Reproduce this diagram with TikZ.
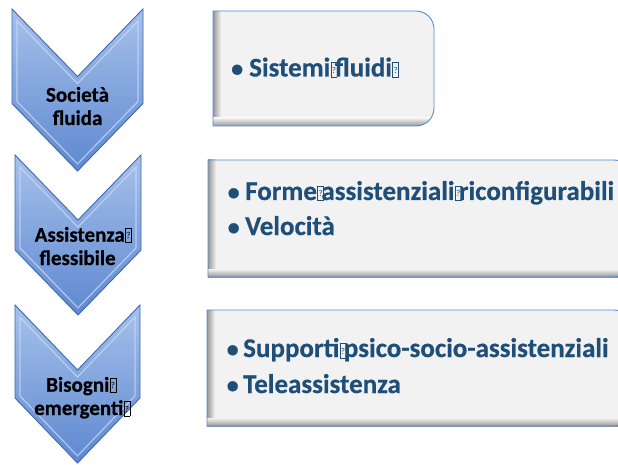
\documentclass[tikz,border=0pt]{standalone}
\usepackage{fontspec}
\setmainfont{Carlito}[BoldFeatures={FakeBold=0.5}]
\definecolor{chevtop}{HTML}{A6C1EB}
\definecolor{chevbot}{HTML}{5E88D0}
\definecolor{chevline}{HTML}{3E68AE}
\definecolor{bevel}{HTML}{CADAF4}
\definecolor{boxfill}{HTML}{F2F2F2}
\definecolor{boxline}{HTML}{5A88D2}
\definecolor{shadowgray}{HTML}{979797}
\definecolor{txtblue}{HTML}{1F4E79}
\newcommand\qbox[1][0.7pt]{\kern0.4pt{\fboxsep=0pt\fboxrule=#1\fbox{\rule[-0.5pt]{0pt}{14pt}\makebox[5.2pt]{\raisebox{3pt}{\fontsize{9}{9}\selectfont\mdseries ?}}}}\kern-2.5pt}
\tikzset{
  chev/.style={draw=chevline, line width=0.9pt, top color=chevtop, bottom color=chevbot, line join=miter},
  bev/.style={draw=bevel, line width=1.2pt, opacity=0.75},
  boxshape/.style={draw=boxline, line width=0.9pt},
  chevtext/.style={anchor=base, inner sep=0pt, font=\fontsize{21}{24}\selectfont\bfseries, text=black},
  itemtext/.style={anchor=base west, inner sep=0pt, font=\fontsize{27}{30}\selectfont\bfseries, text=txtblue},
}
\newcommand\bul{\makebox[0pt][l]{\fontsize{24}{24}\selectfont\textbullet}}
\begin{document}
\begin{tikzpicture}[x=1pt,y=-1pt]
\useasboundingbox (0,0) rectangle (618,465);
% chevrons
\shade[chev] (12,9) -- (77.5,76.5) -- (143,9) -- (143,103.5) -- (77.5,171) -- (12,103.5) -- cycle;
\draw[bev] (17,21.1) -- (77.5,83.6) -- (138,21.1) -- (138,101.4) -- (77.5,163.9) -- (17,101.4) -- cycle;
\shade[chev] (15,155) -- (78,220) -- (141,155) -- (141,250) -- (78,315) -- (15,250) -- cycle;
\draw[bev] (20,167.1) -- (78,227.1) -- (136,167.1) -- (136,247.9) -- (78,307.9) -- (20,247.9) -- cycle;
\shade[chev] (15,305) -- (77.5,370) -- (140,305) -- (140,398) -- (77.5,463) -- (15,398) -- cycle;
\draw[bev] (20,317.1) -- (77.5,377.1) -- (135,317.1) -- (135,395.9) -- (77.5,455.9) -- (20,395.9) -- cycle;
% chevron texts
\node[chevtext] (c1a) at (77.5,101.7) {Società};
\node[chevtext] (c1b) at (77.5,125) {fluida};
\node[chevtext] (c2a) at (82,241.7) {Assistenza\qbox};
\node[chevtext] (c2b) at (77.5,265) {flessibile};
\node[chevtext] (c3a) at (80,391.7) {Bisogni\qbox};
\node[chevtext] (c3b) at (81,415) {emergenti\qbox};
% box 1
\fill[boxfill] (213,11) -- (416,11) arc[start angle=-90,end angle=0,radius=18] -- (434,108) arc[start angle=0,end angle=90,radius=18] -- (213,126) -- cycle;
\begin{scope}
\clip (213,11) -- (416,11) arc[start angle=-90,end angle=0,radius=18] -- (434,108) arc[start angle=0,end angle=90,radius=18] -- (213,126) -- cycle;
\shade[left color=shadowgray, right color=boxfill] (213,11) rectangle (221,126);
\shade[top color=boxfill, bottom color=shadowgray] (213,118) rectangle (434,126);
\end{scope}
\draw[boxshape] (213,11) -- (416,11) arc[start angle=-90,end angle=0,radius=18] -- (434,108) arc[start angle=0,end angle=90,radius=18] -- (213,126) -- cycle;
% box 2
\fill[boxfill] (208,160) rectangle (632,277);
\begin{scope}
\clip (208,160) rectangle (632,277);
\shade[left color=shadowgray, right color=boxfill] (208,160) rectangle (216,277);
\shade[top color=boxfill, bottom color=shadowgray] (208,269) rectangle (632,277);
\end{scope}
\draw[boxshape] (208,160) -- (614,160) arc[start angle=-90,end angle=0,radius=18] -- (632,259) arc[start angle=0,end angle=90,radius=18] -- (208,277) -- cycle;
% box 3
\fill[boxfill] (207,310) rectangle (632,426);
\begin{scope}
\clip (207,310) rectangle (632,426);
\shade[left color=shadowgray, right color=boxfill] (207,310) rectangle (215,426);
\shade[top color=boxfill, bottom color=shadowgray] (207,418) rectangle (632,426);
\end{scope}
\draw[boxshape] (207,310) -- (614,310) arc[start angle=-90,end angle=0,radius=18] -- (632,408) arc[start angle=0,end angle=90,radius=18] -- (207,426) -- cycle;
% item texts
\node[itemtext] (b1bul) at (230.5,76.5) {\bul};
\node[itemtext] (b1a) at (249,76.5) {Sistemi\qbox fluidi\qbox};
\node[itemtext] (b2bul) at (227,200) {\bul};
\node[itemtext] (b2a) at (245,200) {Forme\qbox assistenziali\qbox riconfigurabili};
\node[itemtext] (b2cbul) at (227,235) {\bul};
\node[itemtext] (b2b) at (245,235) {Velocità};
\node[itemtext] (b3bul) at (226,357) {\bul};
\node[itemtext] (b3a) at (243,357) {Supporti\qbox psico-socio-assistenziali};
\node[itemtext] (b3cbul) at (226,393) {\bul};
\node[itemtext] (b3b) at (243,393) {Teleassistenza};
\end{tikzpicture}
\end{document}
